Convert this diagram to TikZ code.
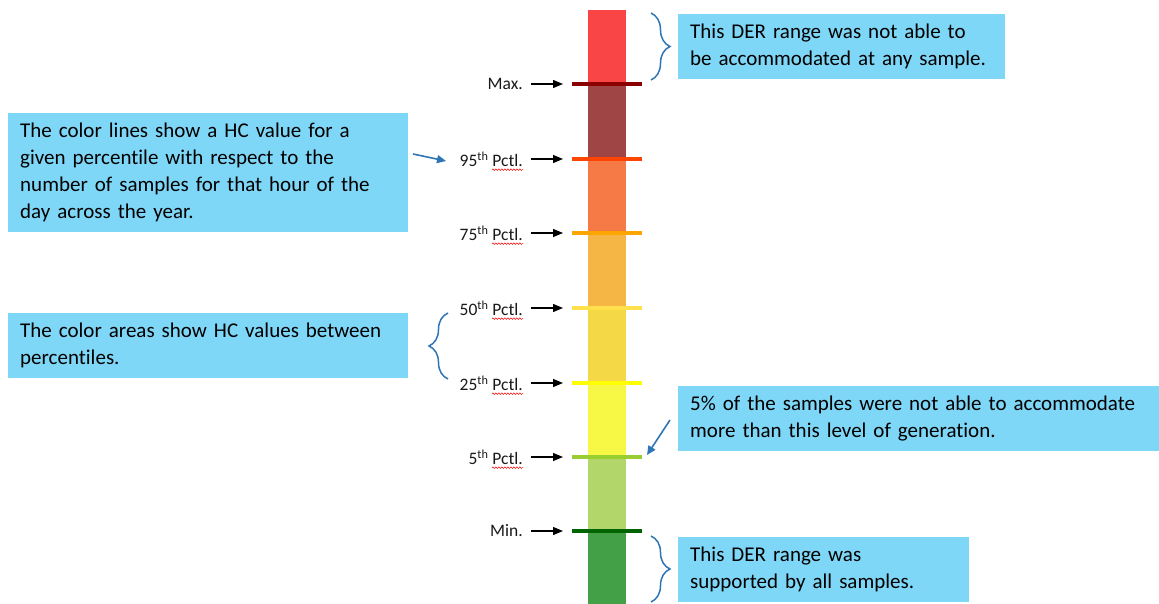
\documentclass[tikz,border=0pt]{standalone}
\usepackage{fontspec}
\setmainfont{Carlito}[Ligatures={NoCommon}]
\usetikzlibrary{arrows.meta,decorations.pathreplacing,decorations.pathmorphing}
\definecolor{boxfill}{HTML}{7FD7F7}
\definecolor{bblue}{HTML}{2E75B6}
\definecolor{sA}{HTML}{F94545}
\definecolor{sB}{HTML}{A04545}
\definecolor{sC}{HTML}{F67A45}
\definecolor{sD}{HTML}{F6B645}
\definecolor{sE}{HTML}{F5D845}
\definecolor{sF}{HTML}{F7F745}
\definecolor{sG}{HTML}{B2D66A}
\definecolor{sH}{HTML}{43A047}
\definecolor{cMax}{HTML}{8B0000}
\definecolor{cNF}{HTML}{FF4500}
\definecolor{cSF}{HTML}{FFA500}
\definecolor{cFF}{HTML}{FFE14D}
\definecolor{cTF}{HTML}{FFFF00}
\definecolor{cFV}{HTML}{9ACD32}
\definecolor{cMin}{HTML}{006400}
\begin{document}
\begin{tikzpicture}[x=1pt,y=-1pt,
  cbox/.style={fill=boxfill, draw=none, inner xsep=12pt, inner ysep=0pt, align=left,
    font=\fontsize{21}{27}\selectfont, anchor=north west, text=black},
  lab/.style={inner sep=0pt, anchor=east, font=\fontsize{17.5}{19}\selectfont, text=black!90},
  karr/.style={line width=1.2pt, black, -{Triangle[length=10pt,width=8pt]}, shorten <=8pt, shorten >=9pt},
  barr/.style={line width=1.6pt, bblue, -{Triangle[length=9pt,width=8pt]}},
  tickline/.style={line width=4pt},
  wavy/.style={red, line width=0.5pt, decorate, decoration={snake, segment length=3pt, amplitude=0.8pt}},
  bracestyle/.style={bblue, line width=1.5pt, decorate, decoration={brace, amplitude=19pt, aspect=0.5}},
]
\useasboundingbox (0,0) rectangle (1159,604);
% bar segments
\fill[sA] (588,10) rectangle (626,84);
\fill[sB] (588,84) rectangle (626,159);
\fill[sC] (588,159) rectangle (626,233);
\fill[sD] (588,233) rectangle (626,308);
\fill[sE] (588,308) rectangle (626,383);
\fill[sF] (588,383) rectangle (626,457);
\fill[sG] (588,457) rectangle (626,531);
\fill[sH] (588,531) rectangle (626,604);
% tick lines
\draw[tickline, cMax] (572,84) coordinate (tMax) -- (642,84) coordinate (tMaxR);
\draw[tickline, cNF] (572,159) coordinate (tNF) -- (642,159);
\draw[tickline, cSF] (572,233) coordinate (tSF) -- (642,233);
\draw[tickline, cFF] (572,308) coordinate (tFF) -- (642,308);
\draw[tickline, cTF] (572,383) coordinate (tTF) -- (642,383);
\draw[tickline, cFV] (572,457) coordinate (tFV) -- (642,457) coordinate (tFVR);
\draw[tickline, cMin] (572,531) coordinate (tMin) -- (642,531);
% labels
\node[lab] (lMax) at (523,84) {Max.};
\node[lab] (lNF) at (523,159) {95\textsuperscript{th} Pctl.};
\node[lab] (lSF) at (523,233) {75\textsuperscript{th} Pctl.};
\node[lab] (lFF) at (523,308) {50\textsuperscript{th} Pctl.};
\node[lab] (lTF) at (523,383) {25\textsuperscript{th} Pctl.};
\node[lab] (lFV) at (523,457) {5\textsuperscript{th} Pctl.};
\node[lab] (lMin) at (523,531) {Min.};
\foreach \n in {Max,NF,SF,FF,TF,FV,Min}{
  \draw[karr] (l\n.east) -- (t\n);
}
\foreach \n in {NF,SF,FF,TF,FV}{
  \draw[wavy] ([xshift=-31pt,yshift=-3pt]l\n.south east) -- ([yshift=-3pt]l\n.south east);
}
% boxes
\node[cbox, minimum width=327pt, minimum height=65pt, text width=303pt] (bTop) at (678,14)
  {This DER range was not able to\\be accommodated at any sample.};
\node[cbox, minimum width=400pt, minimum height=119pt, text width=376pt] (bLines) at (8,113)
  {The color lines show a HC value for a\\given percentile with respect to the\\number of samples for that hour of the\\day across the year.};
\node[cbox, minimum width=400pt, minimum height=65pt, text width=376pt] (bAreas) at (8,313)
  {The color areas show HC values between\\percentiles.};
\node[cbox, minimum width=481pt, minimum height=65pt, text width=457pt] (bFive) at (678,386)
  {5\% of the samples were not able to accommodate\\more than this level of generation.};
\node[cbox, minimum width=291pt, minimum height=65pt, text width=267pt] (bAll) at (678,537)
  {This DER range was\\supported by all samples.};
% braces
\coordinate (brTopA) at (651,13);
\coordinate (brTopB) at (651,80);
\draw[bracestyle] (brTopA) -- (brTopB);
\coordinate (brLA) at (448,379);
\coordinate (brLB) at (448,313);
\draw[bracestyle] (brLA) -- (brLB);
\coordinate (brBA) at (651,536);
\coordinate (brBB) at (651,602);
\draw[bracestyle] (brBA) -- (brBB);
% blue arrows
\coordinate (a1s) at (413,154);
\coordinate (a1e) at (446,161);
\draw[barr] (a1s) -- (a1e);
\coordinate (a3s) at (670,420);
\coordinate (a3e) at (647,455);
\draw[barr] (a3s) -- (a3e);
\end{tikzpicture}
\end{document}
